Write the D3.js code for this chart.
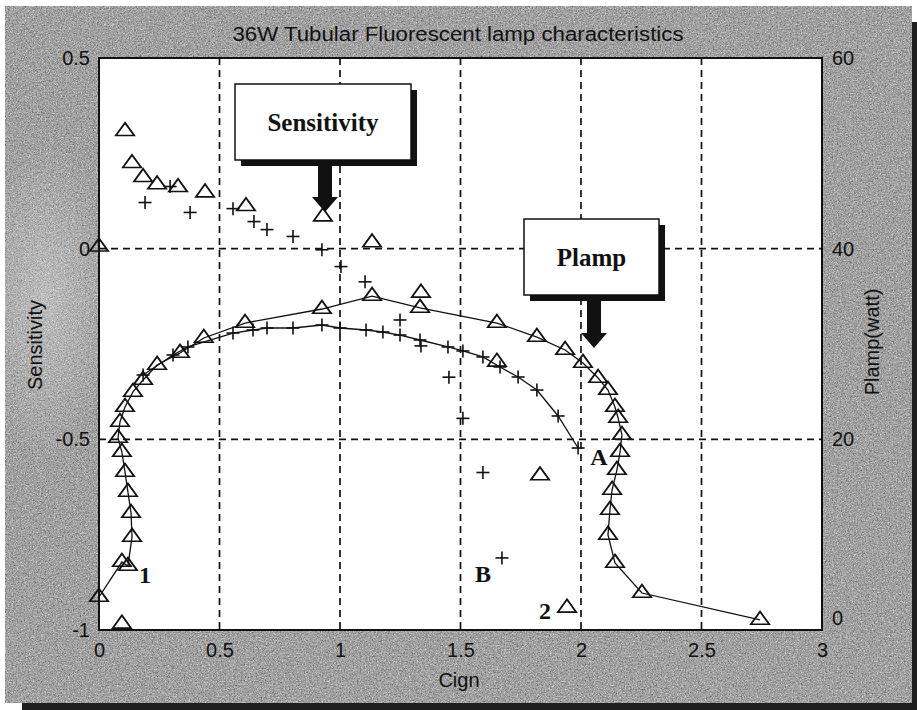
<!DOCTYPE html>
<html>
<head>
<meta charset="utf-8">
<script src="https://cdn.jsdelivr.net/npm/d3@7/dist/d3.min.js"></script>
<style>
  html, body { margin: 0; padding: 0; background: #ffffff; }
  svg { display: block; }
  .tick-label { font-family: "Liberation Sans", Arial, sans-serif; font-size: 20px; fill: #111; }
  .ann { font-family: "Liberation Serif", "Times New Roman", serif; font-weight: bold; fill: #111; }
</style>
</head>
<body>
<svg id="chart" width="917" height="710"></svg>
<script>
// Lamp A (triangles, joined): Cign vs lamp power (W)
const curve1Cign  = [0.00, 0.095, 0.12, 0.137, 0.133, 0.12, 0.108, 0.095, 0.079, 0.087, 0.108, 0.141, 0.183, 0.241, 0.336, 0.435, 0.606, 0.925, 1.133, 1.332, 1.651, 1.817, 1.934, 2.008, 2.071, 2.112, 2.141, 2.154, 2.170, 2.162, 2.149, 2.129, 2.120, 2.112, 2.141, 2.253, 2.743];
const curve1Plamp = [3.46, 7.13, 6.71, 9.76, 12.27, 14.48, 16.57, 18.67, 20.14, 21.82, 23.39, 24.97, 26.22, 27.80, 29.06, 30.63, 32.20, 33.67, 35.03, 33.78, 32.20, 30.73, 29.37, 28.01, 26.43, 25.17, 23.39, 22.24, 20.45, 18.67, 16.78, 14.69, 12.59, 9.97, 7.03, 3.88, 1.05];

// Lamp B (plus, joined): Cign vs lamp power (W)
const curve2Cign  = [0.183, 0.307, 0.369, 0.556, 0.639, 0.697, 0.805, 0.925, 1.000, 1.108, 1.178, 1.249, 1.332, 1.448, 1.510, 1.593, 1.664, 1.739, 1.817, 1.905, 1.988];
const curve2Plamp = [26.75, 28.85, 29.69, 31.15, 31.47, 31.68, 31.68, 31.99, 31.68, 31.47, 31.26, 30.94, 30.42, 29.69, 29.27, 28.64, 27.59, 26.54, 25.17, 22.45, 19.09];

// Sensitivity points, lamp A (triangles)
const sens1Cign = [0.00, 0.108, 0.137, 0.183, 0.241, 0.328, 0.44, 0.61, 0.929, 1.133, 1.336, 1.651, 1.83, 1.942, 0.095];
const sens1Val  = [0.005, 0.308, 0.224, 0.187, 0.168, 0.161, 0.147, 0.111, 0.084, 0.016, -0.116, -0.297, -0.595, -0.942, -0.984];

// Sensitivity points, lamp B (plus)
const sens2Cign = [0.191, 0.295, 0.378, 0.556, 0.643, 0.697, 0.805, 0.925, 1.004, 1.104, 1.249, 1.336, 1.452, 1.510, 1.593, 1.672];
const sens2Val  = [0.121, 0.163, 0.095, 0.105, 0.071, 0.05, 0.032, -0.003, -0.047, -0.087, -0.187, -0.255, -0.337, -0.445, -0.587, -0.811];

const xTicks = [0, 0.5, 1, 1.5, 2, 2.5, 3];
const leftTicks = [-1, -0.5, 0, 0.5];
const rightTicks = [0, 20, 40, 60];

const titleText = "36W Tubular Fluorescent lamp  characteristics";
const xLabel = "Cign";
const leftLabel = "Sensitivity";
const rightLabel = "Plamp(watt)";

const svg = d3.select("#chart");
const W = 917, H = 710;
const plot = { left: 99, right: 822, top: 58, bottom: 630 };

const x = d3.scaleLinear().domain([0, 3]).range([plot.left, plot.right]);
const yL = d3.scaleLinear().domain([-1, 0.5]).range([plot.bottom, plot.top]);
const yR = d3.scaleLinear().domain([0, 60]).range([plot.bottom, plot.top]);
const plainFmt = d => String(d);   // plain hyphen for negatives

// ---- background frame with drop shadow and grain ----
const defs = svg.append("defs");
const grain = defs.append("filter").attr("id", "grain")
  .attr("x", 0).attr("y", 0).attr("width", "100%").attr("height", "100%")
  .attr("color-interpolation-filters", "sRGB");
grain.append("feTurbulence").attr("type", "fractalNoise")
  .attr("baseFrequency", 0.75).attr("numOctaves", 2).attr("seed", 7).attr("result", "n");
grain.append("feColorMatrix").attr("type", "matrix")
  .attr("values", "0.7 0.7 0.7 0 -0.55  0.7 0.7 0.7 0 -0.55  0.7 0.7 0.7 0 -0.55  0 0 0 0 0.55");

const blotch = defs.append("radialGradient").attr("id", "blotch");
blotch.append("stop").attr("offset", "0%").attr("stop-color", "#ffffff").attr("stop-opacity", 0.3);
blotch.append("stop").attr("offset", "100%").attr("stop-color", "#ffffff").attr("stop-opacity", 0);

svg.append("rect").attr("x", 22).attr("y", 22).attr("width", W - 22).attr("height", H - 22).attr("fill", "#1e1e1e");
svg.append("rect").attr("x", 5).attr("y", 6).attr("width", 907).attr("height", 697).attr("fill", "#c8c8c8");
svg.append("rect").attr("x", 5).attr("y", 6).attr("width", 907).attr("height", 697)
  .attr("filter", "url(#grain)").attr("fill", "#000");
svg.append("ellipse").attr("cx", 45).attr("cy", 300).attr("rx", 70).attr("ry", 160).attr("fill", "url(#blotch)");

// ---- plot area ----
svg.append("rect").attr("x", plot.left).attr("y", plot.top)
  .attr("width", plot.right - plot.left).attr("height", plot.bottom - plot.top)
  .attr("fill", "#ffffff");

// grid
const grid = svg.append("g").attr("stroke", "#111").attr("stroke-width", 1.7)
  .attr("stroke-dasharray", "7,5").attr("fill", "none");
grid.selectAll("line.v").data(xTicks.filter(t => t > 0 && t < 3)).enter().append("line")
  .attr("x1", d => x(d)).attr("x2", d => x(d)).attr("y1", plot.top).attr("y2", plot.bottom);
grid.selectAll("line.h").data(leftTicks.filter(t => t > -1 && t < 0.5)).enter().append("line")
  .attr("x1", plot.left).attr("x2", plot.right).attr("y1", d => yL(d)).attr("y2", d => yL(d));

// axes (labels only, box drawn separately)
const axB = svg.append("g").attr("transform", `translate(0,${plot.bottom})`)
  .call(d3.axisBottom(x).tickValues(xTicks).tickSize(0).tickPadding(13).tickFormat(plainFmt));
const axL = svg.append("g").attr("transform", `translate(${plot.left},0)`)
  .call(d3.axisLeft(yL).tickValues(leftTicks).tickSize(0).tickPadding(9).tickFormat(plainFmt));
const axR = svg.append("g").attr("transform", `translate(${plot.right},0)`)
  .call(d3.axisRight(yR).tickValues(rightTicks).tickSize(0).tickPadding(10).tickFormat(plainFmt));
[axB, axL, axR].forEach(a => {
  a.select(".domain").remove();
  a.selectAll("text").attr("class", "tick-label").attr("font-size", null).attr("font-family", null);
});
axR.selectAll(".tick").filter(d => d === 0).select("text").attr("dy", "-0.3em");

// plot box
svg.append("rect").attr("x", plot.left).attr("y", plot.top)
  .attr("width", plot.right - plot.left).attr("height", plot.bottom - plot.top)
  .attr("fill", "none").attr("stroke", "#111").attr("stroke-width", 2);

// ---- series ----
const line = (xs, ys, yScale) => d3.line().x((d, i) => x(xs[i])).y((d, i) => yScale(ys[i]))(xs);

svg.append("path").attr("d", line(curve1Cign, curve1Plamp, yR))
  .attr("fill", "none").attr("stroke", "#111").attr("stroke-width", 1.3);
svg.append("path").attr("d", line(curve2Cign, curve2Plamp, yR))
  .attr("fill", "none").attr("stroke", "#111").attr("stroke-width", 1.3);

const tri = d3.symbol().type(d3.symbolTriangle).size(110);
function triangles(xs, ys, yScale) {
  svg.append("g").selectAll("path").data(xs).enter().append("path")
    .attr("d", tri)
    .attr("transform", (d, i) => `translate(${x(xs[i])},${yScale(ys[i])}) scale(1.15,0.92)`)
    .attr("fill", "none").attr("stroke", "#111").attr("stroke-width", 1.7);
}
function pluses(xs, ys, yScale) {
  const g = svg.append("g").attr("stroke", "#111").attr("stroke-width", 1.6);
  const s = 6.5;
  xs.forEach((d, i) => {
    const cx = x(xs[i]), cy = yScale(ys[i]);
    g.append("line").attr("x1", cx - s).attr("x2", cx + s).attr("y1", cy).attr("y2", cy);
    g.append("line").attr("x1", cx).attr("x2", cx).attr("y1", cy - s).attr("y2", cy + s);
  });
}
triangles(curve1Cign, curve1Plamp, yR);
pluses(curve2Cign, curve2Plamp, yR);
triangles(sens1Cign, sens1Val, yL);
pluses(sens2Cign, sens2Val, yL);

// ---- callout boxes with arrows ----
function callout(bx, by, bw, bh, label, fontSize, ax, ay1, ay2) {
  const g = svg.append("g");
  g.append("rect").attr("x", bx + 6).attr("y", by + 6).attr("width", bw).attr("height", bh).attr("fill", "#111");
  g.append("rect").attr("x", bx).attr("y", by).attr("width", bw).attr("height", bh)
    .attr("fill", "#fff").attr("stroke", "#111").attr("stroke-width", 1.5);
  g.append("text").attr("class", "ann").attr("x", bx + bw / 2).attr("y", by + bh / 2)
    .attr("text-anchor", "middle").attr("dominant-baseline", "central")
    .attr("font-size", fontSize).text(label);
  const sw = 7, hw = 13, hh = 15;
  g.append("path").attr("fill", "#111").attr("d",
    `M${ax - sw},${ay1} L${ax + sw},${ay1} L${ax + sw},${ay2 - hh} L${ax + hw},${ay2 - hh} L${ax},${ay2} L${ax - hw},${ay2 - hh} L${ax - sw},${ay2 - hh} Z`);
}
callout(235, 84, 176, 76, "Sensitivity", 25, 325, 166, 212);
callout(524, 219, 135, 76, "Plamp", 25, 594, 301, 348);

// point labels
const ptLabels = [["1", 145, 583], ["A", 599, 465], ["B", 483, 582], ["2", 545, 619]];
svg.append("g").selectAll("text").data(ptLabels).enter().append("text")
  .attr("class", "ann").attr("font-size", 24).attr("text-anchor", "middle")
  .attr("x", d => d[1]).attr("y", d => d[2]).text(d => d[0]);

// ---- titles ----
svg.append("text").attr("class", "tick-label").attr("x", 458).attr("y", 41)
  .attr("text-anchor", "middle").attr("textLength", 451).attr("lengthAdjust", "spacingAndGlyphs")
  .text(titleText);
svg.append("text").attr("class", "tick-label").attr("x", 459).attr("y", 687)
  .attr("text-anchor", "middle").text(xLabel);
svg.append("text").attr("class", "tick-label")
  .attr("transform", `translate(42,345) rotate(-90)`).attr("text-anchor", "middle").text(leftLabel);
svg.append("text").attr("class", "tick-label")
  .attr("transform", `translate(879,342) rotate(-90)`).attr("text-anchor", "middle").text(rightLabel);
</script>
</body>
</html>
